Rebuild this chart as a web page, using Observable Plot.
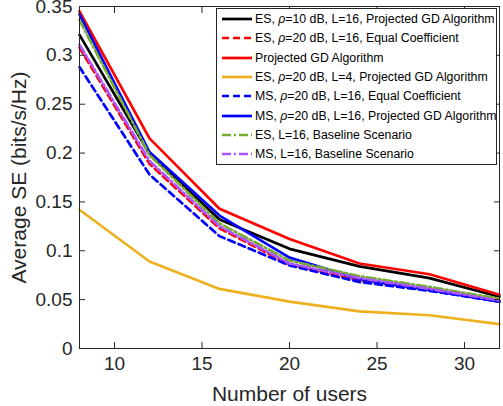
<!DOCTYPE html>
<html>
<head>
<meta charset="utf-8">
<script src="https://cdn.jsdelivr.net/npm/d3@7"></script>
<script src="https://cdn.jsdelivr.net/npm/@observablehq/plot@0.6"></script>
<style>
  html, body { margin: 0; padding: 0; background: white; }
  #wrap { position: relative; width: 503px; height: 406px; }
  #legend { position: absolute; left: 216px; top: 8px; width: 281px; height: 157px;
    border: 1px solid #262626; background: white; box-sizing: border-box;
    font-family: "Liberation Sans", Arial, Helvetica, sans-serif; font-size: 12.3px; color: #000; }
  .row { position: absolute; left: 0; height: 19px; display: flex; align-items: center; white-space: nowrap; }
  .row svg { margin-left: 5px; margin-right: 3px; flex: none; }
</style>
</head>
<body>
<div id="wrap"><div id="chart"></div><div id="legend"></div></div>
<script>
// ---- data ----
const users = [8, 12, 16, 20, 24, 28, 32];
const esRho10Proj = [0.321, 0.199, 0.132, 0.102, 0.084, 0.072, 0.053];
const esRho20Equal = [0.308, 0.189, 0.123, 0.086, 0.070, 0.060, 0.049];
const projGD = [0.345, 0.215, 0.143, 0.112, 0.087, 0.076, 0.055];
const esL4Proj = [0.142, 0.089, 0.061, 0.048, 0.038, 0.034, 0.025];
const msRho20Equal = [0.288, 0.178, 0.115, 0.085, 0.068, 0.059, 0.048];
const msRho20Proj = [0.342, 0.201, 0.136, 0.093, 0.071, 0.060, 0.048];
const esBaseline = [0.336, 0.198, 0.128, 0.090, 0.074, 0.063, 0.051];
const msBaseline = [0.311, 0.192, 0.125, 0.087, 0.072, 0.061, 0.049];

const seriesNames = [
  "ES, <i>ρ</i>=10 dB, L=16, Projected GD Algorithm",
  "ES, <i>ρ</i>=20 dB, L=16, Equal Coefficient",
  "Projected GD Algorithm",
  "ES, <i>ρ</i>=20 dB, L=4, Projected GD Algorithm",
  "MS, <i>ρ</i>=20 dB, L=16, Equal Coefficient",
  "MS, <i>ρ</i>=20 dB, L=16, Projected GD Algorithm",
  "ES, L=16, Baseline Scenario",
  "MS, L=16, Baseline Scenario"
];
const seriesValues = [esRho10Proj, esRho20Equal, projGD, esL4Proj, msRho20Equal, msRho20Proj, esBaseline, msBaseline];
const xTicks = [10, 15, 20, 25, 30];
const yTicks = [0, 0.05, 0.1, 0.15, 0.2, 0.25, 0.3, 0.35];

// ---- styles ----
const styles = [
  {stroke: "#000000", dash: null},
  {stroke: "#FF0000", dash: "7,4"},
  {stroke: "#FF0000", dash: null},
  {stroke: "#EDB120", dash: null},
  {stroke: "#0000FF", dash: "7,4"},
  {stroke: "#0000FF", dash: null},
  {stroke: "#77AC30", dash: "9,3,2,3"},
  {stroke: "#AA55FF", dash: "9,3,2,3"}
];
const lw = 2.7;

const lineMarks = seriesValues.map((vals, i) => {
  const data = users.map((u, j) => ({x: u, y: vals[j]}));
  return Plot.line(data, {x: "x", y: "y", stroke: styles[i].stroke, strokeWidth: lw,
    strokeDasharray: styles[i].dash || undefined, strokeLinejoin: "miter"});
});

const axisColor = "#262626";
const chart = Plot.plot({
  width: 503, height: 406,
  marginLeft: 79, marginRight: 4, marginTop: 6, marginBottom: 58,
  x: {domain: [8, 32]},
  y: {domain: [0, 0.35]},
  style: {fontFamily: "'Liberation Sans', Arial, Helvetica, sans-serif", fontSize: "19px", color: axisColor, background: "white", overflow: "visible"},
  marks: [
    ...lineMarks,
    Plot.axisX({ticks: xTicks, tickSize: -6, tickPadding: 14, tickFormat: d => String(d), fontSize: 19,
      label: "Number of users", labelAnchor: "center", labelArrow: "none", labelOffset: 52}),
    Plot.axisX({anchor: "top", ticks: xTicks, tickSize: -6, tickFormat: () => "", label: null}),
    Plot.axisY({ticks: yTicks, tickSize: -6, tickPadding: 13, tickFormat: d => String(+d.toFixed(2)), fontSize: 19,
      label: "Average SE (bits/s/Hz)", labelAnchor: "center", labelArrow: "none", labelOffset: 68}),
    Plot.axisY({anchor: "right", ticks: yTicks, tickSize: -6, tickFormat: () => "", label: null}),
    Plot.frame({stroke: axisColor, strokeWidth: 1})
  ]
});
document.getElementById("chart").appendChild(chart);
// axis titles slightly larger than tick labels (MATLAB default 1.1x)
chart.querySelectorAll('g[aria-label="x-axis label"], g[aria-label="y-axis label"]').forEach(g => g.setAttribute("font-size", "21"));

// ---- legend ----
const legend = document.getElementById("legend");
seriesNames.forEach((name, i) => {
  const row = document.createElement("div");
  row.className = "row";
  row.style.top = (0.5 + i * 19.3) + "px";
  const s = styles[i];
  row.innerHTML = `<svg width="30" height="10"><line x1="0" y1="5" x2="30" y2="5" stroke="${s.stroke}" stroke-width="${lw}" ${s.dash ? `stroke-dasharray="${s.dash}"` : ""}/></svg><span>${name}</span>`;
  legend.appendChild(row);
});
</script>
</body>
</html>
